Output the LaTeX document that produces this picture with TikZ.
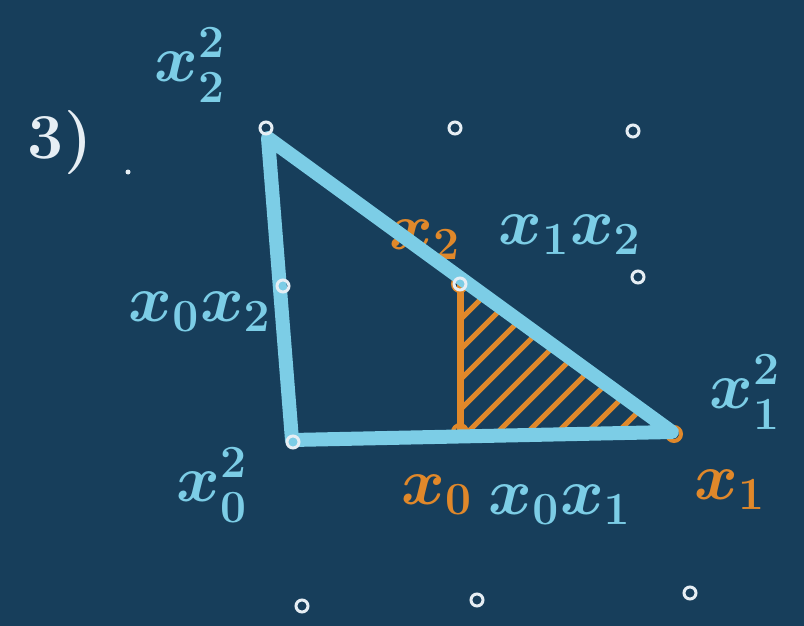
\documentclass[tikz,border=0pt]{standalone}
\usepackage{amsmath}
\definecolor{bg}{HTML}{173E5B}
\definecolor{lb}{HTML}{7CCDE6}
\definecolor{org}{HTML}{E0882A}
\definecolor{wt}{HTML}{E6EEF4}
\tikzset{
  lbl/.style={text=lb, font=\fontsize{20}{20}\selectfont\boldmath, scale=3.2, inner sep=0pt},
  olbl/.style={text=org, font=\fontsize{20}{20}\selectfont\boldmath, scale=3.2, inner sep=0pt},
  wlbl/.style={text=wt, font=\fontsize{20}{20}\selectfont\bfseries, scale=3.2, inner sep=0pt},
  lpt/.style={circle, draw=wt, line width=3pt, minimum size=12pt, inner sep=0pt},
  opt/.style={circle, draw=org, line width=4pt, minimum size=14pt, inner sep=0pt},
  bedge/.style={draw=lb, line width=14pt, line cap=round, line join=round},
  oedge/.style={draw=org, line width=7pt, line cap=round, line join=round},
  hatch/.style={draw=org, line width=5pt, line cap=round},
}
\begin{document}
\begin{tikzpicture}[x=1pt,y=-1pt]
\fill[bg] (0,0) rectangle (804,626);
\useasboundingbox (0,0) rectangle (804,626);

% vertices
\coordinate (A) at (268,138);
\coordinate (B) at (292,440);
\coordinate (C) at (672,432);
\coordinate (P) at (460,284);
\coordinate (Q) at (460,432);

% orange label behind the blue line
\node[olbl] (ox2) at (425,240) {$x_2$};

% hatched orange triangle
\begin{scope}
  \clip (P) -- (Q) -- (C) -- cycle;
  \foreach \i in {0,...,13} {
    \draw[hatch] (300+\i*30,450) -- ++(210,-210);
  }
\end{scope}
\draw[oedge] (P) -- (Q) -- (C);
\node[opt] (oP) at (P) {};
\node[opt] (oQ) at (Q) {};
\node[opt] (oC) at (674,434) {};

% blue triangle
\draw[bedge] (A) -- (B) -- (C) -- cycle;

% lattice points
\node[lpt] (p1) at (266,128) {};
\node[lpt] (p2) at (455,128) {};
\node[lpt] (p3) at (633,131) {};
\node[lpt] (p4) at (283,286) {};
\node[lpt] (p5) at (460,284) {};
\node[lpt] (p6) at (638,277) {};
\node[lpt] (p7) at (293,442) {};
\node[lpt] (p8) at (302,606) {};
\node[lpt] (p9) at (477,600) {};
\node[lpt] (p10) at (690,593) {};

% labels
\node[wlbl] (three) at (60,143) {3)};
\fill[wt] (128,172) circle (2.5pt);
\node[lbl] (x22) at (190,65) {$x_2^2$};
\node[lbl] (x0x2) at (200,312) {$x_0x_2$};
\node[lbl] (x02) at (212,485) {$x_0^2$};
\node[lbl] (x1x2) at (570,235) {$x_1x_2$};
\node[lbl] (x12) at (745,392) {$x_1^2$};
\node[olbl] (ox0) at (437,495) {$x_0$};
\node[lbl] (x0x1) at (560,505) {$x_0x_1$};
\node[olbl] (ox1) at (730,490) {$x_1$};
\end{tikzpicture}
\end{document}
